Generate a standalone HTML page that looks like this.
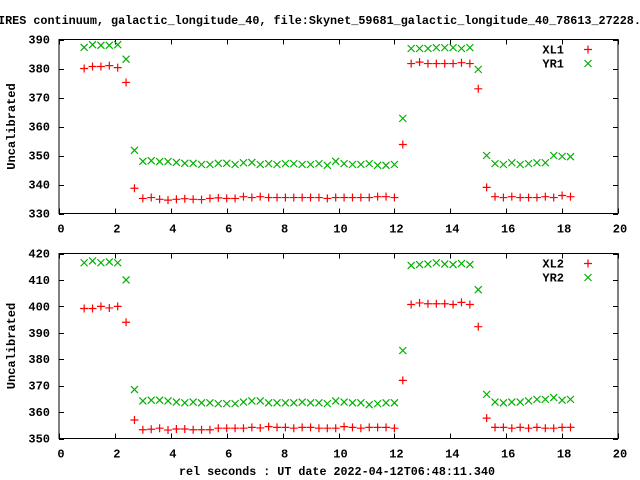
<!DOCTYPE html>
<html><head><meta charset="utf-8"><style>
html,body{margin:0;padding:0;background:#fff;}
svg{display:block;}
text{font-family:"Liberation Mono","DejaVu Sans Mono",monospace;font-weight:bold;font-size:12px;fill:#000;}
</style></head><body>
<svg id="chart" width="640" height="480" xmlns="http://www.w3.org/2000/svg">
<text x="-2" y="24" textLength="650" lengthAdjust="spacingAndGlyphs">IRES continuum, galactic_longitude_40, file:Skynet_59681_galactic_longitude_40_78613_27228.c</text>
<text x="337" y="475" text-anchor="middle" textLength="316" lengthAdjust="spacingAndGlyphs">rel seconds : UT date 2022-04-12T06:48:11.340</text>
</svg>
<script>
const xs = [0.9,1.2,1.5,1.8,2.1,2.4,2.7,3.0,3.3,3.6,3.9,4.2,4.5,4.8,5.1,5.4,5.7,6.0,6.3,6.6,6.9,7.2,7.5,7.8,8.1,8.4,8.7,9.0,9.3,9.6,9.9,10.2,10.5,10.8,11.1,11.4,11.7,12.0,12.3,12.6,12.9,13.2,13.5,13.8,14.1,14.4,14.7,15.0,15.3,15.6,15.9,16.2,16.5,16.8,17.1,17.4,17.7,18.0,18.3];
const xl1 = [380,380.7,380.7,381,380.3,375.2,338.7,335.2,335.5,334.9,334.6,334.9,335.1,334.9,334.8,335.2,335.4,335.2,335.2,335.8,335.5,335.8,335.5,335.5,335.5,335.5,335.5,335.5,335.5,335.2,335.5,335.5,335.5,335.5,335.5,335.8,335.8,335.5,353.8,381.7,382.2,381.7,381.7,381.7,381.7,382,381.7,373,339,335.8,335.5,335.8,335.5,335.5,335.5,335.8,335.5,336.2,335.8];
const yr1 = [387.3,388.2,388,388,388.2,383.2,351.8,348,348.2,347.9,347.9,347.6,347.3,347.3,346.9,346.9,347.3,347.3,346.9,347.5,347.6,346.9,347.2,346.9,347.2,347.2,346.9,346.9,347.2,346.6,348,347.2,346.9,346.9,347.2,346.6,346.6,346.9,362.8,386.9,386.9,386.9,387.2,387.2,387.2,386.9,387.2,379.7,350,347.2,346.9,347.5,346.9,347.2,347.5,347.5,350,349.7,349.6];
const xl2 = [399.2,399.2,400,399.4,400,394,357,353.3,353.5,353.9,353.2,353.6,353.6,353.3,353.3,353.3,353.9,353.9,353.9,353.9,354.2,354,354.5,354.2,354.2,353.9,354.2,354.2,353.9,353.9,353.9,354.5,354.2,353.9,354.2,354.2,354.2,353.9,372,400.7,401.3,401,401,401,400.7,401.5,400.7,392.3,357.7,354.2,354.2,353.9,354.2,353.9,354.2,353.9,353.9,354.2,354.2];
const yr2 = [416.5,417.2,416.5,416.8,416.5,410,368.5,364.2,364.5,364.5,364.2,363.8,363.5,363.8,363.5,363.5,363.2,363.2,363.2,363.8,364.2,364.2,363.5,363.5,363.5,363.5,363.8,363.5,363.5,363.2,364.2,363.8,363.5,363.5,362.8,363.2,363.5,363.5,383.3,415.5,415.8,416,416.5,416,415.8,416.2,415.8,406.3,366.7,363.8,363.5,363.8,363.8,364.2,364.8,364.8,365.5,364.5,364.8];
const xTicks = [0,2,4,6,8,10,12,14,16,18,20];
const yTicks1 = [330,340,350,360,370,380,390];
const yTicks2 = [350,360,370,380,390,400,410,420];
const legend1 = ["XL1","YR1"];
const legend2 = ["XL2","YR2"];

const NS = "http://www.w3.org/2000/svg";
const svg = document.getElementById("chart");
function mk(tag, attrs, parent){const e=document.createElementNS(NS,tag);for(const k in attrs)e.setAttribute(k,attrs[k]);(parent||svg).appendChild(e);return e;}

function panel(idx, top, bottom, yTicks, s1, s2, leg){
  const L=59,R=618, yMin=yTicks[0], yMax=yTicks[yTicks.length-1];
  const g = mk("g",{});
  
  
  const X = v => L + (v-0)/(20-0)*(R-L);
  const Y = v => bottom - (v-yMin)/(yMax-yMin)*(bottom-top);
  const frame = mk("rect",{x:L,y:top,width:R-L,height:bottom-top,fill:"none",stroke:"#000","stroke-width":1},g);
  
  
  xTicks.forEach(t=>{
    const x=Math.round(X(t))+0.5;
    mk("line",{x1:x,y1:bottom,x2:x,y2:bottom-5,stroke:"#000"},g);
    mk("line",{x1:x,y1:top,x2:x,y2:top+5,stroke:"#000"},g);
    const tx=mk("text",{x:X(t)+2,y:bottom+19,"text-anchor":"middle"},g);
    tx.textContent=t;
    
    
  });
  yTicks.forEach(t=>{
    const y=Math.round(Y(t))+0.5;
    mk("line",{x1:L,y1:y,x2:L+5,y2:y,stroke:"#000"},g);
    mk("line",{x1:R,y1:y,x2:R-5,y2:y,stroke:"#000"},g);
    const ty=mk("text",{x:50,y:Y(t)+4,"text-anchor":"end"},g);
    ty.textContent=t;
    
    
  });
  const yt=mk("text",{x:0,y:0,"text-anchor":"middle",transform:`translate(15,${(top+bottom)/2}) rotate(-90)`},g);
  yt.textContent="Uncalibrated";
  
  
  function plus(x,y,p){mk("path",{d:`M${x-4} ${y}H${x+4}M${x} ${y-4}V${y+4}`,stroke:"#ff0000","stroke-width":1.2,fill:"none"},p);}
  function cross(x,y,p){mk("path",{d:`M${x-3.5} ${y-3.5}L${x+3.5} ${y+3.5}M${x-3.5} ${y+3.5}L${x+3.5} ${y-3.5}`,stroke:"#00b000","stroke-width":1.2,fill:"none"},p);}
  const gs1=mk("g",{},g);  
  const gs2=mk("g",{},g);  
  xs.forEach((xv,i)=>{ cross(X(xv),Y(s2[i]),gs2); plus(X(xv),Y(s1[i]),gs1); });
  const lg=mk("g",{},g);  
  const l1=mk("text",{x:564,y:top+14,"text-anchor":"end"},lg); l1.textContent=leg[0];
   
  plus(588,top+10,lg);
  const l2=mk("text",{x:564,y:top+28,"text-anchor":"end"},lg); l2.textContent=leg[1];
   
  cross(588,top+24,lg);
}
panel(1, 39.5, 213.5, yTicks1, xl1, yr1, legend1);
panel(2, 253.5, 438.5, yTicks2, xl2, yr2, legend2);
</script>
</body></html>
